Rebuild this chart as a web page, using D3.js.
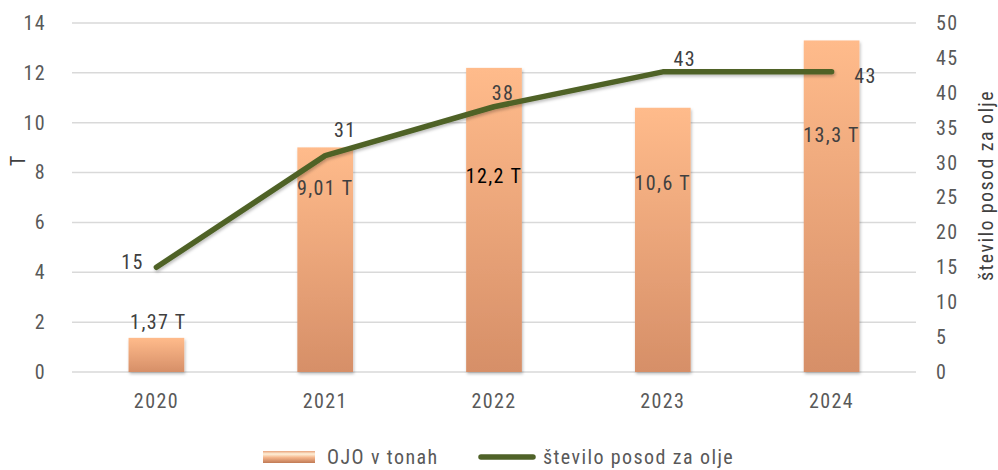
<!DOCTYPE html>
<html lang="sl">
<head>
<meta charset="UTF-8">
<title>OJO v tonah</title>
<script src="https://d3js.org/d3.v7.min.js"></script>
<style>
  body { margin: 0; background: #fff; }
  svg text { font-family: "Roboto Condensed", "Liberation Sans Narrow", Roboto, sans-serif; letter-spacing: 1.4px; }
  .tick text { fill: #595959; font-size: 20px; }
  .lbl { fill: #404040; font-size: 20px; }
</style>
</head>
<body>
<div id="chart"></div>
<script>
const years = ["2020", "2021", "2022", "2023", "2024"];
const tonnes = [1.37, 9.01, 12.2, 10.6, 13.3];
const tonneLabels = ["1,37 T", "9,01 T", "12,2 T", "10,6 T", "13,3 T"];
// where the bar labels sit, in left-axis units
const tonneLabelAt = [2.0, 7.4, 7.85, 7.6, 9.5];
const containers = [15, 31, 38, 43, 43];
const leftTicks = [0, 2, 4, 6, 8, 10, 12, 14];
const rightTicks = [0, 5, 10, 15, 20, 25, 30, 35, 40, 45, 50];

const W = 998, H = 470;
const m = { top: 23, right: 82, bottom: 98, left: 72 };
const iw = W - m.left - m.right, ih = H - m.top - m.bottom;

const svg = d3.select("#chart").append("svg")
  .attr("width", W).attr("height", H);

const defs = svg.append("defs");
const grad = defs.append("linearGradient").attr("id", "barGrad")
  .attr("x1", 0).attr("y1", 0).attr("x2", 0).attr("y2", 1);
grad.append("stop").attr("offset", "0%").attr("stop-color", "#ffbb8b");
grad.append("stop").attr("offset", "100%").attr("stop-color", "#d68f68");

const sh = defs.append("filter").attr("id", "shadow")
  .attr("x", "-20%").attr("y", "-20%").attr("width", "140%").attr("height", "140%");
sh.append("feDropShadow").attr("dx", 1).attr("dy", 2).attr("stdDeviation", 1.5)
  .attr("flood-color", "#000").attr("flood-opacity", 0.25);

const legGrad = defs.append("linearGradient").attr("id", "legGrad")
  .attr("x1", 0).attr("y1", 0).attr("x2", 0).attr("y2", 1);
legGrad.append("stop").attr("offset", "0%").attr("stop-color", "#e8a27a");
legGrad.append("stop").attr("offset", "25%").attr("stop-color", "#fff0d8");
legGrad.append("stop").attr("offset", "55%").attr("stop-color", "#f4b48a");
legGrad.append("stop").attr("offset", "100%").attr("stop-color", "#c07a55");

const g = svg.append("g").attr("transform", `translate(${m.left},${m.top})`);

const x = d3.scaleBand().domain(years).range([0, iw]).paddingInner(0.67).paddingOuter(0.335);
const yL = d3.scaleLinear().domain([0, 14]).range([ih, 0]);
const yR = d3.scaleLinear().domain([0, 50]).range([ih, 0]);

// gridlines
g.append("g").selectAll("line").data(leftTicks).join("line")
  .attr("x1", 0).attr("x2", iw)
  .attr("y1", d => yL(d)).attr("y2", d => yL(d))
  .attr("stroke", "#d9d9d9").attr("stroke-width", 1.5);

// axes
const axL = g.append("g").call(d3.axisLeft(yL).tickValues(leftTicks).tickSize(0).tickPadding(26));
axL.select(".domain").remove();
const axR = g.append("g").attr("transform", `translate(${iw},0)`)
  .call(d3.axisRight(yR).tickValues(rightTicks).tickSize(0).tickPadding(20));
axR.select(".domain").remove();
const axB = g.append("g").attr("transform", `translate(0,${ih})`)
  .call(d3.axisBottom(x).tickSize(0).tickPadding(22));
axB.select(".domain").remove();
svg.selectAll(".tick text").attr("font-family", null).attr("font-size", null);

g.append("text").attr("class", "lbl")
  .attr("transform", `translate(${-54},${yL(8.5)}) rotate(-90)`)
  .attr("text-anchor", "middle").attr("dy", "0.35em").text("T");
g.append("text").attr("class", "lbl")
  .attr("transform", `translate(${iw + 70},${ih / 2 - 12}) rotate(-90)`)
  .attr("text-anchor", "middle").attr("dy", "0.35em").text("število posod za olje");

// bars
g.append("g").selectAll("rect").data(years).join("rect")
  .attr("x", d => x(d)).attr("width", x.bandwidth())
  .attr("y", (d, i) => yL(tonnes[i])).attr("height", (d, i) => ih - yL(tonnes[i]))
  .attr("fill", "url(#barGrad)").attr("filter", "url(#shadow)");

g.append("g").selectAll("text").data(years).join("text")
  .attr("class", "lbl")
  .attr("x", d => x(d) + x.bandwidth() / 2 + (d === "2020" ? 2 : 0))
  .attr("y", (d, i) => yL(tonneLabelAt[i]))
  .attr("dy", "0.35em").attr("text-anchor", "middle")
  .style("fill", (d, i) => i === 2 ? "#000" : "#404040")
  .text((d, i) => tonneLabels[i]);

// line
const line = d3.line()
  .x((d, i) => x(years[i]) + x.bandwidth() / 2)
  .y(d => yR(d));
g.append("path").datum(containers)
  .attr("d", line).attr("fill", "none")
  .attr("stroke", "#4f6228").attr("stroke-width", 5.5)
  .attr("stroke-linecap", "round").attr("stroke-linejoin", "round")
  .attr("filter", "url(#shadow)");

// line labels: offsets in px around each point
const lineLabelOff = [[-24, -5], [20, -26], [9, -14], [22, -13], [34, 4]];
g.append("g").selectAll("text").data(containers).join("text")
  .attr("class", "lbl")
  .attr("x", (d, i) => x(years[i]) + x.bandwidth() / 2 + lineLabelOff[i][0])
  .attr("y", (d, i) => yR(d) + lineLabelOff[i][1])
  .attr("dy", "0.35em").attr("text-anchor", "middle")
  .text(d => d);

// legend
const leg = svg.append("g").attr("transform", `translate(0,${H - 13})`);
leg.append("rect").attr("x", 263).attr("y", -6).attr("width", 52).attr("height", 12)
  .attr("fill", "url(#legGrad)");
leg.append("text").attr("class", "lbl").style("fill", "#595959")
  .attr("x", 327).attr("dy", "0.35em").text("OJO v tonah");
leg.append("line").attr("x1", 481).attr("x2", 533)
  .attr("stroke", "#4f6228").attr("stroke-width", 5.5).attr("stroke-linecap", "round");
leg.append("text").attr("class", "lbl").style("fill", "#595959")
  .attr("x", 543).attr("dy", "0.35em").text("število posod za olje");
</script>
</body>
</html>
